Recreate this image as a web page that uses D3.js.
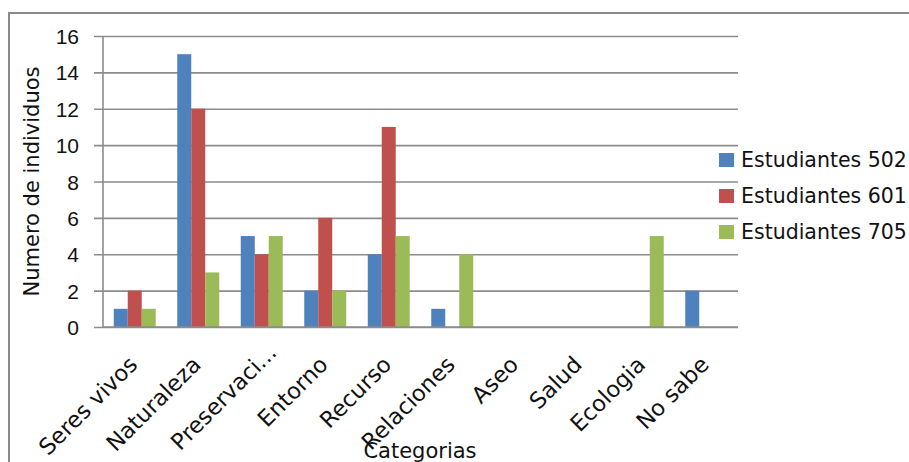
<!DOCTYPE html>
<html><head><meta charset="utf-8">
<script src="https://cdn.jsdelivr.net/npm/d3@7"></script>
<style>body{margin:0;background:#fff;}svg{display:block;font-family:"DejaVu Sans",sans-serif;}</style>
</head><body>
<script>
const categories = ["Seres vivos","Naturaleza","Preservaci...","Entorno","Recurso","Relaciones","Aseo","Salud","Ecologia","No sabe"];
const seriesNames = ["Estudiantes 502","Estudiantes 601","Estudiantes 705"];
const est502 = [1,15,5,2,4,1,0,0,0,2];
const est601 = [2,12,4,6,11,0,0,0,0,0];
const est705 = [1,3,5,2,5,4,0,0,5,0];
const yTicks = [0,2,4,6,8,10,12,14,16];
const colors = ["#4F81BD","#C0504D","#9BBB59"];
const yTitle = "Numero de individuos";
const xTitle = "Categorias";

const seriesValues = [est502, est601, est705];
const W = 909, H = 462;
const svg = d3.select("body").append("svg").attr("width", W).attr("height", H);
svg.append("rect").attr("x",0).attr("y",0).attr("width",W).attr("height",H).attr("fill","#fff");
svg.append("rect").attr("x",9).attr("y",13).attr("width",W+10).attr("height",H+10)
  .attr("fill","#fff").attr("stroke","#8a8a8a").attr("stroke-width",2);

const pLeft = 103, pRight = 738, pTop = 36, pBottom = 327;
const p = 0.339;
const x = d3.scaleBand().domain(categories).range([pLeft,pRight]).paddingInner(p).paddingOuter(p/2);
const xs = d3.scaleBand().domain(seriesNames).range([0, x.bandwidth()]);
const y = d3.scaleLinear().domain([0,16]).range([pBottom, pTop]);

// gridlines + left ticks
const yAxis = d3.axisLeft(y).tickValues(yTicks).tickSize(-(pRight-pLeft)).tickPadding(0).tickFormat("");
const ga = svg.append("g").attr("transform",`translate(${pLeft},0)`).call(yAxis);
ga.select(".domain").remove();
ga.selectAll(".tick line").attr("x1",-9).attr("stroke","#8c8c8c").attr("stroke-width",1.6);
ga.selectAll(".tick").append("text").attr("x",-24).attr("dy","0.36em")
  .attr("text-anchor","end").attr("fill","#111").attr("font-size","21px").text(d=>d);
svg.append("line").attr("x1",pLeft).attr("x2",pLeft).attr("y1",pTop).attr("y2",pBottom)
  .attr("stroke","#8c8c8c").attr("stroke-width",1.6);

// bars
seriesNames.forEach((s,i)=>{
  svg.append("g").selectAll("rect").data(categories).join("rect")
    .attr("x", c => x(c) + xs(s))
    .attr("y", (c,j) => y(seriesValues[i][j]))
    .attr("width", xs.bandwidth())
    .attr("height", (c,j) => y(0) - y(seriesValues[i][j]))
    .attr("fill", colors[i]);
});
svg.append("line").attr("x1",pLeft).attr("x2",pRight).attr("y1",pBottom).attr("y2",pBottom)
  .attr("stroke","#8c8c8c").attr("stroke-width",1.6);

// x labels (truncated labels sit a little higher along their slant)
svg.append("g").selectAll("text").data(categories).join("text")
  .attr("transform", c => {
    const shift = c.endsWith("...") ? 12 : 0;
    return `translate(${x(c)+x.bandwidth()/2+4+shift},${366-shift}) rotate(-45)`;
  })
  .attr("text-anchor","end").attr("fill","#111").attr("font-size","22.5px").text(c=>c);

// axis titles
svg.append("text").attr("transform",`translate(39,${(pTop+pBottom)/2}) rotate(-90)`)
  .attr("text-anchor","middle").attr("fill","#111").attr("font-size","21px").text(yTitle);
svg.append("text").attr("x",420).attr("y",458).attr("text-anchor","middle")
  .attr("fill","#111").attr("font-size","21px").text(xTitle);

// legend
const lg = svg.append("g");
seriesNames.forEach((s,i)=>{
  const cy = 160 + i*36;
  lg.append("rect").attr("x",719).attr("y",cy-7).attr("width",15).attr("height",14).attr("fill",colors[i]);
  lg.append("text").attr("x",741).attr("y",cy).attr("dy","0.36em").attr("fill","#111")
    .attr("font-size","20.5px").text(s);
});
</script>
</body></html>
